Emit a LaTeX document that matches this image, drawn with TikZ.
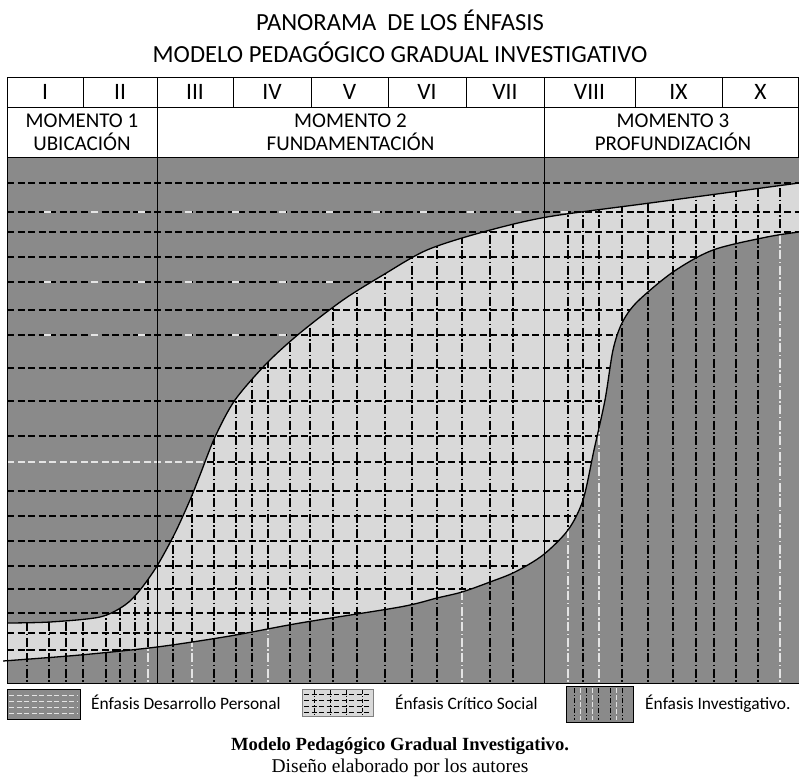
\documentclass[tikz,border=0pt]{standalone}
\usepackage{fontspec}
\setmainfont{Carlito}
\newfontfamily\capfont{Liberation Serif}
\definecolor{darkfill}{RGB}{138,138,138}
\definecolor{lightfill}{RGB}{217,217,217}
\definecolor{hatchlight}{RGB}{228,228,228}
\begin{document}
\begin{tikzpicture}[x=1pt,y=-1pt,
  hdash/.style={line width=1.1pt, dash pattern=on 7pt off 3.5pt},
  vdash/.style={line width=1.1pt, dash pattern=on 9pt off 2.5pt on 1.5pt off 2.5pt},
  curveline/.style={line width=1.3pt},
  rule/.style={line width=0.9pt},
  titletext/.style={font=\fontsize{24.6}{28}\selectfont, inner sep=0pt},
  numtext/.style={font=\fontsize{23.5}{27}\selectfont, inner sep=0pt},
  momtext/.style={font=\fontsize{21}{23}\selectfont, align=center, inner sep=0pt},
  legtext/.style={font=\fontsize{17.4}{20}\selectfont, anchor=base west, inner sep=0pt},
  legbox/.style={draw=black, line width=0.9pt},
  captext/.style={inner sep=0pt}
]
\useasboundingbox (0,0) rectangle (799,776);
\fill[white] (0,0) rectangle (799,776);

% titles
\node[titletext] (t1) at (400,20) {PANORAMA\ \ DE LOS ÉNFASIS};
\node[titletext] (t2) at (400,52) {MODELO PEDAGÓGICO GRADUAL INVESTIGATIVO};

% chart
\begin{scope}
\clip (7,157) rectangle (799,683);
\fill[darkfill] (7,157) rectangle (799,683);
% middle region
\fill[lightfill] plot[smooth] coordinates {(7,623) (50,622) (100,617) (125,605) (140,590) (157,566) (175,533) (190,500) (200,475) (215,437) (235,400) (267,363) (300,333) (343,300) (383,275) (427,250) (483,232) (547,217) (650,203) (799,183)}
  -- plot[smooth] coordinates {(799,232) (767,237) (713,250) (673,272) (637,302) (622,323) (613,350) (605,400) (594,450) (583,500) (568,530) (543,555) (515,572) (490,582) (462,592) (437,598) (400,607) (300,623) (230,636) (157,647) (80,655) (3,661)} -- cycle;
% horizontal hatching, above the lower curve
\begin{scope}
\clip (3,157) -- (799,157) -- plot[smooth] coordinates {(799,232) (767,237) (713,250) (673,272) (637,302) (622,323) (613,350) (605,400) (594,450) (583,500) (568,530) (543,555) (515,572) (490,582) (462,592) (437,598) (400,607) (300,623) (230,636) (157,647) (80,655) (3,661)} -- cycle;
\foreach \yy in {183,212,232,257,282,310,335,368,401,436,462,491,516,541,566,589,613,633,650}
  \draw[hdash] (7,\yy) -- (799,\yy);
\end{scope}
% light dashes in top region
\begin{scope}
\clip (3,157) -- (799,157) -- plot[smooth] coordinates {(799,183) (650,203) (547,217) (483,232) (427,250) (383,275) (343,300) (300,333) (267,363) (235,400) (215,437) (200,475) (190,500) (175,533) (157,566) (140,590) (125,605) (100,617) (50,622) (7,623)} -- (3,623) -- cycle;
\foreach \yy in {462}
  \draw[hdash, hatchlight] (7,\yy) -- (799,\yy);
\foreach \yy in {212,282,335}
  \draw[line width=1.1pt, hatchlight, dash pattern=on 7pt off 40pt, dash phase=10pt] (7,\yy) -- (799,\yy);
\end{scope}
% vertical hatching, below the upper curve
\begin{scope}
\clip (3,683) -- (799,683) -- plot[smooth] coordinates {(799,183) (650,203) (547,217) (483,232) (427,250) (383,275) (343,300) (300,333) (267,363) (235,400) (215,437) (200,475) (190,500) (175,533) (157,566) (140,590) (125,605) (100,617) (50,622) (7,623)} -- (3,623) -- cycle;
\foreach \xx in {27,49,66,83,106,120,135,148,173,192,214,236,252,268,290,310,333,357,385,412,437,462,490,513,568,583,599,622,648,673,696,714,736,758,780}
  \draw[vdash] (\xx,157) -- (\xx,683);
\end{scope}
% light vertical dashes in bottom region
\begin{scope}
\clip (3,683) -- plot[smooth] coordinates {(3,661) (80,655) (157,647) (230,636) (300,623) (400,607) (437,598) (462,592) (490,582) (515,572) (543,555) (568,530) (583,500) (594,450) (605,400) (613,350) (622,323) (637,302) (673,272) (713,250) (767,237) (799,232)} -- (799,683) -- cycle;
\foreach \xx in {148,192,268,462,568,599,780}
  \draw[vdash, hatchlight] (\xx,157) -- (\xx,683);
\end{scope}
% upper curve
\draw[curveline] plot[smooth] coordinates {(7,623) (50,622) (100,617) (125,605) (140,590) (157,566) (175,533) (190,500) (200,475) (215,437) (235,400) (267,363) (300,333) (343,300) (383,275) (427,250) (483,232) (547,217) (650,203) (799,183)};
\end{scope}
% lower curve (runs slightly past the left frame, as in the original)
\begin{scope}
\clip (3,157) rectangle (799,683);
\draw[curveline] plot[smooth] coordinates {(3,661) (80,655) (157,647) (230,636) (300,623) (400,607) (437,598) (462,592) (490,582) (515,572) (543,555) (568,530) (583,500) (594,450) (605,400) (613,350) (622,323) (637,302) (673,272) (713,250) (767,237) (799,232)};
\end{scope}

% table and frame lines
\draw[rule] (7,77) -- (799,77);
\draw[rule] (7,107) -- (799,107);
\draw[rule] (7,157) -- (799,157);
\draw[rule] (7,683) -- (799,683);
\draw[rule] (7,77) -- (7,683);
\draw[rule] (157,77) -- (157,683);
\draw[rule] (544,77) -- (544,683);
\draw[rule] (798.5,77) -- (798.5,157);
\foreach \xx in {83,233,311,388,466,635,722}
  \draw[rule] (\xx,77) -- (\xx,107);

% column numerals
\node[numtext] (c1) at (45,92) {I};
\node[numtext] (c2) at (120,92) {II};
\node[numtext] (c3) at (195,92) {III};
\node[numtext] (c4) at (272,92) {IV};
\node[numtext] (c5) at (349.5,92) {V};
\node[numtext] (c6) at (427,92) {VI};
\node[numtext] (c7) at (505,92) {VII};
\node[numtext] (c8) at (589.5,92) {VIII};
\node[numtext] (c9) at (678.5,92) {IX};
\node[numtext] (c10) at (760.5,92) {X};

% moments
\node[momtext] (m1) at (82,132) {MOMENTO 1\\UBICACIÓN};
\node[momtext] (m2) at (350.5,132) {MOMENTO 2\\FUNDAMENTACIÓN};
\node[momtext] (m3) at (673,132) {MOMENTO 3\\PROFUNDIZACIÓN};

% legend box 1
\fill[darkfill] (7,689) rectangle (80,719);
\foreach \yy in {695,701,707,713}
  \draw[line width=1pt, hatchlight, dash pattern=on 5pt off 2.5pt] (9,\yy) -- (78,\yy);
\draw[legbox] (7,689) rectangle (80,719);
\node[legtext] (l1) at (91,709) {Énfasis Desarrollo Personal};

% legend box 2
\fill[lightfill] (302,689) rectangle (373,716);
\foreach \yy in {694,700,706,712}
  \draw[line width=1pt, dash pattern=on 5pt off 2.5pt] (304,\yy) -- (371,\yy);
\foreach \xx in {314,330,346,362}
  \draw[line width=1pt, dash pattern=on 4pt off 2pt on 1pt off 2pt] (\xx,690) -- (\xx,715);
\draw[line width=0.6pt, gray] (302,689) rectangle (373,716);
\node[legtext] (l2) at (395,709) {Énfasis Crítico Social};

% legend box 3
\fill[darkfill] (566,686) rectangle (633,722);
\foreach \xx in {574,586,598,610,622}
  \draw[line width=1pt, dash pattern=on 5pt off 2pt on 1pt off 2pt] (\xx,688) -- (\xx,720);
\foreach \xx in {580,592,616}
  \draw[line width=1pt, hatchlight, dash pattern=on 5pt off 2pt] (\xx,688) -- (\xx,720);
\draw[legbox] (566,686) rectangle (633,722);
\node[legtext] (l3) at (645,709) {Énfasis Investigativo.};

% caption
\node[captext, font=\capfont\bfseries\fontsize{18.6}{21}\selectfont] (cap1) at (400,746) {Modelo Pedagógico Gradual Investigativo.};
\node[captext, font=\capfont\fontsize{19.5}{22}\selectfont] (cap2) at (400,768) {Diseño elaborado por los autores};
\end{tikzpicture}
\end{document}
